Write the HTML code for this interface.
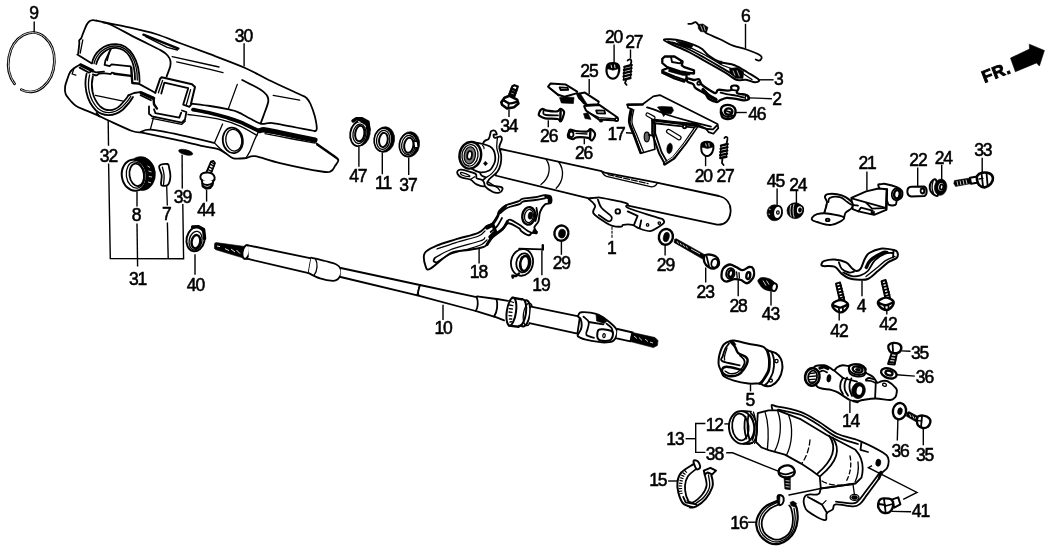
<!DOCTYPE html>
<html><head><meta charset="utf-8">
<style>
html,body{margin:0;padding:0;background:#fff;}
body{width:1052px;height:554px;overflow:hidden;font-family:"Liberation Sans",sans-serif;}
svg{display:block;will-change:transform;}
.l{font-family:"Liberation Sans",sans-serif;font-size:17.5px;fill:#000;stroke:#000;stroke-width:0.55;text-anchor:middle;letter-spacing:-1.1px;}
.k{fill:none;stroke:#000;stroke-width:1.8;stroke-linecap:round;stroke-linejoin:round;}
.t{fill:none;stroke:#000;stroke-width:1.3;stroke-linecap:round;stroke-linejoin:round;}
.h{fill:none;stroke:#000;stroke-width:2.4;stroke-linecap:round;stroke-linejoin:round;}
.hh{fill:none;stroke:#000;stroke-width:3.4;stroke-linecap:round;stroke-linejoin:round;}
.f{fill:#000;stroke:#000;stroke-width:0.6;stroke-linejoin:round;}
.w{fill:#fff;stroke:#000;stroke-width:1.8;stroke-linejoin:round;stroke-linecap:round;}
.wt{fill:#fff;stroke:#000;stroke-width:1.3;stroke-linejoin:round;stroke-linecap:round;}
.wh{fill:#fff;stroke:#000;stroke-width:2;stroke-linejoin:round;stroke-linecap:round;}
.ld{fill:none;stroke:#000;stroke-width:1.4;}
</style></head><body>
<svg width="1052" height="554" viewBox="0 0 1052 554">
<rect width="1052" height="554" fill="#fff"/>
<g id="labels">
<text class="l" x="33.5" y="19">9</text>
<text class="l" x="243.5" y="41.5">30</text>
<text class="l" x="108.5" y="161.5">32</text>
<text class="l" x="136" y="221.3">8</text>
<text class="l" x="166.2" y="220">7</text>
<text class="l" x="182.4" y="202.6">39</text>
<text class="l" x="205.8" y="216">44</text>
<text class="l" x="137.6" y="285">31</text>
<text class="l" x="195.5" y="290.7">40</text>
<text class="l" x="357.8" y="181.8">47</text>
<text class="l" x="383.1" y="189">11</text>
<text class="l" x="407.9" y="191">37</text>
<text class="l" x="508.8" y="131.7">34</text>
<text class="l" x="548.7" y="142.3">26</text>
<text class="l" x="583.6" y="158.8">26</text>
<text class="l" x="589" y="77.2">25</text>
<text class="l" x="613.6" y="43.1">20</text>
<text class="l" x="633.8" y="47.7">27</text>
<text class="l" x="745.4" y="22.2">6</text>
<text class="l" x="778.3" y="85.3">3</text>
<text class="l" x="776.5" y="105">2</text>
<text class="l" x="756.8" y="119.9">46</text>
<text class="l" x="616.1" y="139.9">17</text>
<text class="l" x="703.3" y="181.6">20</text>
<text class="l" x="725.1" y="181.6">27</text>
<text class="l" x="775.4" y="186.9">45</text>
<text class="l" x="797.8" y="190.8">24</text>
<text class="l" x="867.1" y="168.8">21</text>
<text class="l" x="918" y="166.3">22</text>
<text class="l" x="943.3" y="163.6">24</text>
<text class="l" x="982.8" y="156.4">33</text>
<text class="l" x="478.4" y="278.4">18</text>
<text class="l" x="541" y="291.2">19</text>
<text class="l" x="561.3" y="268.7">29</text>
<text class="l" x="611.2" y="253.5">1</text>
<text class="l" x="665.5" y="271">29</text>
<text class="l" x="705.2" y="297.5">23</text>
<text class="l" x="738.1" y="312">28</text>
<text class="l" x="770.5" y="320.4">43</text>
<text class="l" x="861" y="311.8">4</text>
<text class="l" x="838.9" y="337">42</text>
<text class="l" x="888" y="330">42</text>
<text class="l" x="919.6" y="358.6">35</text>
<text class="l" x="924.5" y="383.2">36</text>
<text class="l" x="749.9" y="406.3">5</text>
<text class="l" x="850.6" y="427">14</text>
<text class="l" x="900.1" y="457.2">36</text>
<text class="l" x="924.6" y="460.5">35</text>
<text class="l" x="714.3" y="431">12</text>
<text class="l" x="675" y="445.2">13</text>
<text class="l" x="714.5" y="459.5">38</text>
<text class="l" x="657.8" y="486.2">15</text>
<text class="l" x="738.9" y="529.4">16</text>
<text class="l" x="920.5" y="517.3">41</text>
<text class="l" x="443.1" y="334.4">10</text>
</g>
<g>
<!-- ring 9 -->
<path d="M14.6,83.8 A23,29.7 6 1 1 21.3,89.6" fill="none" stroke="#000" stroke-width="2.7" stroke-linecap="round"/>
<path d="M14.6,83.8 A23,29.7 6 1 1 21.3,89.6" fill="none" stroke="#fff" stroke-width="0.8" stroke-linecap="round"/>
<path class="ld" d="M34.2,21.5 L34.2,32.3"/>
</g>
<g>
<!-- upper cover 30 -->
<path class="k" d="M78.2,53.5 C78.4,51.8 79.1,45.7 79.3,43.5 C79.5,41.3 78.9,41.4 79.2,40.5 C79.5,39.6 80.5,39.5 81.2,38.2 C81.9,37 82.3,35.2 83.2,33 C84.1,30.8 85.5,27 86.5,25 C87.5,23 88.4,22 89.5,21.2 C90.6,20.4 91.8,20.3 93,20.2 C94.2,20.1 95.8,20.6 96.4,20.7"/>
<path class="k" d="M96.4,20.7 C102.1,21.9 120.6,25.5 130.5,27.7 C140.4,29.9 147.4,31.4 155.8,34 C164.2,36.6 172,40.1 181,43.5 C190,46.9 199.4,50.2 210,54.2 C220.6,58.2 234.8,63.4 244.6,67.7 C254.4,72 259.5,75.5 268.7,80 C277.9,84.5 293.7,91.5 300,94.5 C306.3,97.5 304.8,96.4 306.5,98 C308.2,99.6 309.1,100.9 310.5,104 C311.9,107.1 313.8,112.5 314.9,116.6 C315.9,120.7 316.8,126.1 316.8,128.5 C316.8,130.9 315.3,130.8 315,131.2"/>
<path class="t" d="M82.8,39.8 L80.2,53.2"/>
<path class="k" d="M77.3,54.6 L91.5,63.2"/>
<path class="k" d="M103,22.5 C104.2,22.8 104.6,21.9 110.3,24.5 C116,27.1 128.5,34.1 136.9,38.4 C145.3,42.7 155.7,47.5 160.9,50.4 C166.1,53.3 166.4,54.2 168,56 C169.6,57.8 170,59.3 170.4,61 C170.8,62.7 170.9,63.4 170.3,66 C169.7,68.6 167.2,74.8 166.6,76.6"/>
<path class="h" d="M143.4,34.7 L178.4,48.6"/>
<path class="t" d="M145.7,36.7 L167.2,47.4 L177.4,50"/>
<path class="t" d="M172.2,56.7 L210,65 L219,67"/>
<path class="t" d="M176.7,61.8 L210,69.4 L223,72.6"/>
<path class="k" d="M242.2,80 C244.5,81.2 252.5,85.1 256,87 C259.5,88.9 261.4,90 263.3,91.6 C265.2,93.2 266.7,94.8 267.5,96.5 C268.3,98.2 268.7,99.2 268.2,102 C267.7,104.8 265.8,109.4 264.5,113 C263.2,116.6 261.3,121.7 260.7,123.4"/>
<path class="t" d="M237.3,84.4 L228.5,108.4"/>
<path class="t" d="M273.2,95.4 L299.7,100.2"/>
<path class="k" d="M92,63.4 C94,52 104,44 116,44.2 C130,44.6 139.6,60 139.6,82"/>
<path class="t" d="M94,63.6 C96.4,53.6 105,45.8 116,46 C128.4,46.4 137.6,60 137.3,80"/>
<path class="k" d="M96.2,64 C98.6,55 106,47.6 116,47.8 C127,48.2 135.2,60 135,79.6"/>
<path class="k" d="M111,48.6 L105.4,60.6 L104.6,64.8 L109.6,66.2 L111.6,64.3 L130.6,66.4"/>
<path class="t" d="M109.6,51.5 L107.2,60.5"/>
<path class="h" d="M131.2,67.6 L132.3,83 L138.6,83.6"/>
<path class="k" d="M138.6,83.6 L155.3,92.8"/>
<path class="k" d="M155.3,92.8 L160,79 L161.6,77.3 L192,84.2 L195,87 L191,103.5" style="stroke-width:2"/>
<path class="k" d="M161.3,93.6 L164.4,82.6 L188.2,88.2 L183.2,104.6 L189.5,106.8 L191.9,103.6"/>
<path class="t" d="M158.4,92.8 L162.6,80.4"/>
<path class="t" d="M186.4,104.6 L190.6,89.6"/>
<path class="k" d="M191.9,103.6 C194.9,104 204.1,105.1 210,106 C215.9,106.9 222.9,108.2 227.5,109.2 C232.1,110.2 233.7,110.2 237.4,111.8 C241.2,113.3 246.2,116.5 250,118.5 C253.8,120.5 257.5,122.8 260.5,123.6 C263.5,124.4 265.5,123.2 268,123.2 C270.5,123.2 267.9,122.3 275.7,123.6 C283.5,124.9 308.4,129.9 315,131.2"/>
<!-- seam -->
<path class="hh" d="M193,109.6 C195.8,110.2 204.5,111.7 210,113 C215.5,114.3 221,115.8 226,117.3 C231,118.8 234.6,119.7 240,122 C245.4,124.3 255.6,129.5 258.7,131" style="stroke-width:3.8"/>
<path class="hh" d="M260,130.6 C260.8,130.5 261.7,129.4 265,129.8 C268.3,130.2 271.7,131.1 280,132.8 C288.3,134.5 309.2,138.8 315,140" style="stroke-width:5.2"/>
<path class="t" d="M187.9,114.5 C193.4,115.3 212.1,117.6 220.8,119.6 C229.5,121.5 234,123.5 240,126.2 C246,128.8 254.2,133.9 257,135.5"/>
<path class="t" d="M265,133.6 C269.2,134.4 281.7,136.9 290,138.5 C298.3,140.1 310.8,142.2 315,143"/>
<path class="k" d="M262,131 C266.7,131.9 281,134.4 290,136.2 C299,138 311.7,140.7 316,141.6"/>
<!-- lower cover 32 -->
<path class="k" d="M80.3,64.5 C79.2,65.1 75.7,67 74,68.3 C72.3,69.6 71.3,70.4 70.2,72.1 C69.1,73.8 68.4,76 67.6,78.4 C66.8,80.8 65.4,84 65.1,86.6 C64.8,89.2 64.7,91.7 65.7,94.2 C66.8,96.7 69.6,99.7 71.4,101.7 C73.2,103.7 74,104.7 76.5,106.2 C79,107.7 83.2,109.1 86.6,110.6 C90,112 93.1,113.3 96.7,114.9 C100.3,116.5 102.1,117.6 108,120.3 C113.9,123 126.5,129 132,131 C137.5,133 139.4,132.2 140.9,132.4"/>
<path class="k" d="M140.9,132.4 C146.6,133.6 164.9,137.4 175.3,139.7 C185.7,142 195.9,144.5 203.1,146.1 C210.2,147.7 214.4,147.9 218.2,149.2 C222,150.4 223.5,152.1 226,153.6 C228.5,155.1 230.1,157.6 233.4,158.3 C236.7,159.1 242.4,158.4 246,158.1 C249.6,157.8 249.2,155.4 254.9,156.2 C260.6,157 268.9,160.5 280,163.1 C291.1,165.7 313.2,170.2 321.7,171.5 C330.2,172.8 328.8,172.1 331,171.2 C333.2,170.3 333.8,167.9 335,166 C336.2,164.1 339,161.8 338.2,159.6 C337.4,157.4 333.6,155.7 330,153 C326.4,150.3 318.8,145.1 316.6,143.5"/>
<path class="t" d="M74,68.3 L72.1,74 L75.8,75.2"/>
<path class="hh" d="M80.8,65 L92.6,70.8"/>
<path class="k" d="M79.6,67.6 L89.1,72.7 L91.6,71"/>
<path class="k" d="M86.6,73.6 C84,84 85.5,100 96,110.5 C103,116.6 114,117 123,109.5 C128,104.5 131,100.5 133,97"/>
<path class="t" d="M89.6,75 C87,85 88.5,99 98,108.6 C104.5,114 113.6,114.4 121.4,107.6 C126,103 129,99.5 130.8,96.2"/>
<path class="k" d="M92.9,76.2 C90.4,86 92,98 100.2,106.5 C106,111.4 113.5,111.8 120,105.6 C124,101.5 126.6,98.6 128.4,95.4"/>
<path class="t" d="M95.4,95.4 L123.2,101.1"/>
<path class="k" d="M96.6,113 L99.5,116.4"/>
<path class="k" d="M92.9,74.3 C93.5,74.5 95.5,75.5 96.5,75.4 C97.5,75.3 97.8,73.9 99.2,73.6 C100.6,73.3 103.1,73.3 105,73.4 C106.9,73.5 109.2,74.1 110.4,74 C111.6,73.9 111.3,72.7 112,72.6 C112.7,72.5 114,73.4 114.4,73.6"/>
<path class="h" d="M114.4,73.8 L131,75.9"/>
<path class="k" d="M92,71 L96,72.4 L104,71.6"/>
<path class="k" d="M128.4,95.4 L134,93 L140,92.2"/>
<path class="hh" d="M141,92.8 L153.6,98.4"/>
<path class="k" d="M140.6,95.2 L151,100.2"/>
<path class="h" d="M153.6,98.4 L154,104.2 L157,108.6"/>
<path class="k" d="M149,106.5 L149,113.7 L152.1,116.4 L181.8,122.6 L185,119.4 L186.4,112 L182,110.5"/>
<path class="k" d="M154,109.3 L155.4,113.1 L179.3,117.6 L181.2,112.6"/>
<path class="t" d="M152,118.3 L181.6,124.4 L185.4,121"/>
<path class="t" d="M153.5,117.7 L150.3,129.7"/>
<path class="k" d="M140.9,131.8 C142.6,131.5 144.2,129.1 151,129.7 C157.8,130.3 171,133.1 181.6,135.3 C192.2,137.5 208.9,141.6 214.4,142.9"/>
<path class="t" d="M222.6,124 L214.4,142.9 L220,148.5 L226,153.6"/>
<path class="t" d="M258,132.6 L254.9,139.1 L249.8,151.7 L246,158.1"/>
<path class="t" d="M316.6,144.8 L338.2,159.6"/>
<ellipse class="k" cx="232.8" cy="140.4" rx="10" ry="12.8" transform="rotate(-8 232.8 140.4)"/>
<ellipse class="t" cx="233.8" cy="140.2" rx="8" ry="10.9" transform="rotate(-8 233.8 140.2)"/>
<path class="ld" d="M244.1,43.2 L244.1,66.4"/>
</g>
<g>
<!-- leaders left -->
<path class="ld" d="M108.2,120.3 L108.5,145.8"/>
<path class="ld" d="M108.6,163.5 L110.3,258.5 L183.6,258.8 L182.8,204"/>
<path class="ld" d="M182.1,154.7 L182.3,188.5"/>
<path class="ld" d="M137,191.6 L137,206.5"/>
<path class="ld" d="M137,223.6 L137.6,266.5"/>
<path class="t" d="M166.7,186.3 L167.3,205"/>
<path class="ld" d="M167.4,222.4 L168.2,258.6"/>
<path class="ld" d="M206.6,189.9 L206.6,201.6"/>
<path class="ld" d="M195,254.3 L195,274.8"/>
<!-- part 8 bushing -->
<ellipse class="f" cx="141.2" cy="173.6" rx="14.2" ry="17" transform="rotate(-6 141.2 173.6)"/>
<ellipse class="wh" cx="134.2" cy="175.2" rx="12.4" ry="15.6" transform="rotate(-8 134.2 175.2)"/>
<ellipse class="t" cx="135.6" cy="175" rx="9.3" ry="13.2" transform="rotate(-8 135.6 175)"/>
<ellipse class="k" cx="136.7" cy="174.8" rx="7.2" ry="11.3" transform="rotate(-8 136.7 174.8)"/>
<path d="M147.5,166 L150,167.5 M148.5,171 L151.5,172 M148.8,176.5 L152,177 M148,182 L151,182.8" stroke="#fff" stroke-width="0.8" fill="none"/>
<!-- part 7 -->
<path class="w" d="M159.3,165.8 C160.3,163.9 165.8,163.6 167.5,164 C169.2,164.4 168.7,166.1 169.2,168.2 C169.7,170.3 170.6,173.7 170.4,176.4 C170.2,179.1 169.5,183.1 168.1,184.6 C166.7,186.1 163.4,185.9 162.2,185.7 C161,185.5 161.1,185.2 161,183.4 C160.9,181.7 162,178.1 161.7,175.2 C161.4,172.3 158.3,167.7 159.3,165.8Z"/>
<path class="t" d="M162.4,167.2 C162.7,168.5 163.9,172.2 164.1,175.2 C164.3,178.2 163.6,183.4 163.5,185"/>
<!-- part 39 -->
<ellipse class="f" cx="185.7" cy="152.3" rx="7.3" ry="2.5" transform="rotate(14 185.7 152.3)"/>
<!-- part 44 -->
<path class="w" d="M206.4,172.4 L211,161.6 L213.2,160.8 L215,163 L210.6,174.4Z"/>
<path class="t" d="M207.8,169.5 L211.8,171.4 M208.9,166.8 L213,168.8 M210,164.2 L214,166.1 M211,162.2 L214.6,164"/>
<path class="wh" d="M200.4,176.4 C200.6,175.2 201.7,173.8 203,173.2 C204.3,172.6 206.4,172.5 208,172.6 C209.6,172.7 211.5,173.2 212.6,174 C213.7,174.8 214.4,176.3 214.6,177.4 C214.8,178.5 214.7,179.8 213.6,180.6 C212.5,181.4 209.9,182.2 208,182.2 C206.1,182.2 203.3,181.4 202,180.4 C200.7,179.4 200.2,177.6 200.4,176.4Z"/>
<path class="wh" d="M202,180.6 L202.6,186.4 L206,188.8 L210.4,188 L212.6,185 L213.2,180.8"/>
<path class="k" d="M202.4,183.4 C205,185.6 209.6,185.6 212.8,183 M203,186 C205.6,188 209.4,187.6 211.8,185.8"/>
</g>
<g>
<!-- part 40 -->
<ellipse class="wh" cx="195.6" cy="239.2" rx="9" ry="12.2" transform="rotate(12 195.6 239.2)"/>
<path class="hh" d="M192.6,227 L198,226.6 L203.6,229.6 L204.6,238.5"/>
<ellipse class="t" cx="195.6" cy="240.6" rx="6.4" ry="9.4" transform="rotate(12 195.6 240.6)"/>
<ellipse class="h" cx="195.9" cy="241.7" rx="4.3" ry="6.7" transform="rotate(10 195.9 241.7)"/>
<!-- shaft 10 -->
<path class="f" d="M214.6,243.4 L216,242.6 L244.4,246.4 L242.6,257.8 L216,249.8 L214.4,248.4Z"/>
<path d="M217,246 L220,246.6 M225,248.6 L229,250.6 M231,249 L235,252 M236.5,250 L240,253.6" stroke="#fff" stroke-width="0.9" fill="none"/>
<ellipse class="wh" cx="246" cy="252" rx="3.4" ry="7" transform="rotate(12 246 252)"/>
<path class="w" d="M248,245.3 L311.2,258.4 L308.6,273.1 L249,259.2"/>
<path class="k" d="M246.6,258.8 L249,259.2"/>
<path class="w" d="M311.2,257.6 C313.5,258.2 320.9,259.9 325,261 C329.1,262.1 333.4,262.9 336,264.2 C338.6,265.4 339.7,266.9 340.5,268.5 C341.3,270.1 341.4,272.2 341,274 C340.6,275.8 339.3,277.9 338,279 C336.7,280.1 336,280.9 333,280.8 C330,280.7 324.1,279.7 320,278.4 C315.9,277.1 310.5,274 308.6,273.1"/>
<path class="t" d="M315.4,258.8 C318,263 317.6,271 314,275.4"/>
<path class="w" d="M340.8,268 L419.8,285 L417.3,295.4 L340.6,277"/>
<path class="t" d="M420.4,285 C418,288 417.6,292.6 419,295.6"/>
<path class="k" d="M419.8,285 L476.6,297.1"/>
<path class="k" d="M417.3,295.4 L475.7,311"/>
<path class="k" d="M476.6,297.1 C478.4,301 478.2,307.6 475.7,311"/>
<path class="k" d="M477,296.4 L496.5,299"/>
<path class="k" d="M477,311.3 L494,316.6"/>
<path class="k" d="M496.5,299 C498,304 497.4,312 494,316.6"/>
<path class="k" d="M497.2,299 L508,300.8"/>
<path class="k" d="M494.6,316.6 L504.1,320.4"/>
<ellipse class="wh" cx="524.6" cy="313.4" rx="5.4" ry="13.2" transform="rotate(8 524.6 313.4)"/>
<ellipse class="wh" cx="520.6" cy="312.6" rx="5.4" ry="13.6" transform="rotate(8 520.6 312.6)"/>
<path class="w" d="M512.4,297.6 L521.6,299.2 L518.2,326.6 L509.4,325.4Z" style="stroke:none"/>
<path class="h" d="M512.4,297.8 L522,299.4"/>
<path class="h" d="M509,325.6 L518.6,326.8"/>
<ellipse class="wh" cx="511.4" cy="311.6" rx="4.6" ry="14" transform="rotate(8 511.4 311.6)"/>
<path class="t" d="M510.6,301.5 L513.6,302.5 M509.6,305 L512.8,305.6 M509.2,308.6 L512.4,309 M509,312 L512,312.4 M509,315.6 L511.8,315.8 M509.4,319 L511.8,319 M510,322 L512,321.6"/>
<ellipse class="t" cx="528" cy="314.4" rx="4.6" ry="11.4" transform="rotate(8 528 314.4)"/>
<path class="w" d="M531,306.7 L579.9,316.6 L577.4,333.7 L529.4,323.2"/>
<!-- yoke -->
<path class="w" d="M578.2,316.7 C578,315.9 578.5,314.5 579,313.8 C579.5,313.1 579.7,312.5 581.5,312.3 C583.3,312.1 587.1,312.2 590,312.6 C592.9,313 595.5,313.3 598.7,314.9 C601.9,316.5 606.4,319.6 609.3,322 C612.2,324.4 615,327 616.3,329 C617.6,331 617.5,332.1 617,334 C616.5,335.9 615.2,339.3 613.4,340.7 C611.6,342.1 608.5,342.2 606,342.4 C603.5,342.6 602.1,342.4 598.7,341.9 C595.3,341.4 588.9,340.3 585.8,339.6 C582.7,338.9 581.4,338.3 580,337.6 C578.6,336.9 577.5,336.8 577.6,335.5 C577.7,334.2 579.9,331.7 580.6,330 C581.3,328.3 581.7,327.4 581.7,325.5 C581.7,323.6 581.1,320.1 580.5,318.6 C579.9,317.1 578.5,317.5 578.2,316.7Z" style="stroke-width:1.9"/>
<path class="f" d="M596,314.6 L603,316.6 L606.6,321.6 L604,323.4 L596.6,321Z"/>
<path class="k" d="M583.5,316.7 C584.4,317.6 588,319.9 588.7,322 C589.4,324.1 588,326.9 587.6,329 C587.2,331.1 585.3,333.4 586.4,334.9 C587.5,336.4 592.7,337.3 594,337.8"/>
<path class="k" d="M588.7,322 L603.4,324.3"/>
<path class="wh" d="M597.4,333 C597.6,331.6 597.7,330.4 598.6,329.8 C599.5,329.2 600.9,329 603,329.2 C605.1,329.4 609.8,330.2 611.5,331 C613.2,331.8 613,332.7 613,334 C613,335.3 612.3,337.5 611.6,338.6 C610.9,339.7 610.8,340.3 609,340.6 C607.2,340.9 602.5,340.8 600.6,340.4 C598.7,340 598.1,339.2 597.6,338 C597.1,336.8 597.2,334.4 597.4,333Z"/>
<path class="k" d="M606.5,323.6 C607.4,324.3 610.6,326.4 611.6,328 C612.6,329.6 612.6,332.2 612.8,333"/>
<ellipse class="t" cx="604" cy="335.6" rx="1.2" ry="2" transform="rotate(10 604 335.6)"/>
<path class="w" d="M617.5,329 L632.7,332.5 L630.4,341.3 L616.6,338.4"/>
<path class="f" d="M631.6,332.3 L655,337.5 L658,340.6 L657.4,345.5 L653.4,347.6 L630.2,341.5Z"/>
<path d="M634,336 L637,338.6 M639,337.6 L642,340.4 M645,339 L648,341.6 M650,342 L653,343" stroke="#fff" stroke-width="0.8" fill="none"/>
<path class="ld" d="M443,304.8 L443,320"/>
</g>
<g>
<!-- 47 -->
<ellipse class="f" cx="360.6" cy="132.6" rx="9.6" ry="13.4" transform="rotate(8 360.6 132.6)"/>
<ellipse class="wh" cx="358.8" cy="133.8" rx="8.6" ry="12.4" transform="rotate(8 358.8 133.8)" style="stroke-width:1.8"/>
<ellipse class="t" cx="359.4" cy="133.8" rx="6.4" ry="9.8" transform="rotate(8 359.4 133.8)"/>
<ellipse class="h" cx="359.8" cy="133.6" rx="4.6" ry="7.8" transform="rotate(8 359.8 133.6)" style="stroke-width:2"/>
<path class="hh" d="M353,121 L356.4,118.6 L362,118.8 L368,122 L369,130"/>
<path d="M358,121.4 L360.5,122.2 M364.5,124.6 L365.6,127" stroke="#fff" stroke-width="0.9" fill="none"/>
<path class="ld" d="M358.9,146.6 L358.9,166.8"/>
<!-- 11 -->
<ellipse class="f" cx="384.4" cy="139.5" rx="10.2" ry="12.8" transform="rotate(8 384.4 139.5)"/>
<ellipse class="wh" cx="383" cy="139.8" rx="8.8" ry="11.8" transform="rotate(8 383 139.8)" style="stroke-width:1.7"/>
<ellipse class="t" cx="383.2" cy="139.9" rx="6.6" ry="9.6" transform="rotate(8 383.2 139.9)"/>
<ellipse class="h" cx="383.4" cy="140" rx="4.3" ry="7.2" transform="rotate(8 383.4 140)" style="stroke-width:2"/>
<path class="ld" d="M382.3,152.6 L382.3,174.2"/>
<!-- 37 -->
<ellipse class="f" cx="409.4" cy="144.4" rx="10.2" ry="12.8" transform="rotate(8 409.4 144.4)"/>
<ellipse class="wh" cx="408.2" cy="144.8" rx="8.8" ry="11.6" transform="rotate(8 408.2 144.8)" style="stroke-width:1.7"/>
<ellipse class="t" cx="408.5" cy="145" rx="6.8" ry="9.6" transform="rotate(8 408.5 145)"/>
<ellipse class="h" cx="408.8" cy="145.3" rx="4.6" ry="7.6" transform="rotate(8 408.8 145.3)" style="stroke-width:2"/>
<path class="wh" d="M413.6,140.8 L417.6,141.8 L418.2,147.4 L414.4,148 Z" style="stroke-width:1.5"/>
<path class="ld" d="M408.7,157.4 L408.7,175"/>
</g>
<g>
<!-- column tube -->
<path class="w" d="M500.6,149 L601.5,171.2 L604.6,172.6 L655.7,182.4 L718.9,196 C727,198 731,204 730.6,211.4 C730,220 725,225.4 717,224.6 L628,205.6 L596,197.6 L588.9,198.4 L495.5,175.5 Z"/>
<path class="t" d="M601.5,171.2 C603,174 604.6,175.8 606.5,176.4 L651.5,186.8 C654,187 656.4,185.4 657.5,182.6"/>
<path class="t" d="M608,174.6 L648,183.6" stroke-dasharray="6 2"/>
<path class="t" d="M546.1,159.4 C551,166 550.6,177 541,184.6"/>
<path class="t" d="M558.7,162 C564.6,170 563.6,181 556.2,188.2"/>
<!-- left housing -->
<path class="w" d="M482.9,144 C484.3,138.5 487.4,140.6 488.6,138.9 C489.9,137.2 490,134.9 490.4,133.6 C490.8,132.3 490.4,131.8 491.1,131.3 C491.9,130.8 493.9,130.2 494.9,130.7 C495.8,131.2 497,133.9 496.8,134.5 C496.6,135.1 494,134 493.6,134.5 C493.2,135 493.7,137.1 494.3,137.6 C494.9,138.1 495.9,137.6 497,137.4 C498.1,137.2 499.8,136.1 500.6,136.4 C501.4,136.8 502.1,137.7 501.9,139.5 C501.7,141.3 499.4,144.5 499.3,147.1 C499.2,149.7 501,152.5 501.2,155.3 C501.4,158.2 501.2,161.5 500.6,164.2 C500,166.9 499.3,169.2 497.4,171.7 C495.5,174.2 490.8,177.2 489.2,179.3 C487.6,181.4 486.1,183.1 488,184.4 C489.9,185.7 498.2,186.1 500.6,186.9 C503,187.7 502.7,188.5 502.5,189.4 C502.3,190.3 500.9,192.2 499.3,192.6 C497.7,193 495.5,193.2 493,192 C490.5,190.8 485.9,187.5 484.2,185.6 C482.5,183.7 482.7,182 482.9,180.6 C483.1,179.2 485.9,178.8 485.4,177.4 C484.9,176 480.4,177.6 480,172 C479.6,166.4 481.5,149.5 482.9,144Z"/>
<path class="t" d="M497.4,137.4 C497.3,139.1 496.6,144.5 496.8,147.7 C497,150.9 498.7,153.4 498.7,156.6 C498.7,159.8 498,163.9 496.8,166.7 C495.6,169.5 493.5,171.8 491.7,173.6 C489.9,175.4 486.8,176.9 485.8,177.6"/>
<path class="t" d="M488,181.9 L498.1,188.2 L499.6,190.4"/>
<path class="w" d="M470.3,142 C472.4,142.3 479.6,143.2 482.9,144 C486.2,144.8 488.2,145.5 490,146.6 C491.8,147.7 492.7,148.7 493.6,150.3 C494.5,151.9 495,154.1 495.2,156 C495.4,157.9 495.3,159.8 494.9,161.6 C494.5,163.4 493.6,165.1 492.6,166.6 C491.7,168.1 491.2,169.5 489.2,170.5 C487.2,171.5 483.3,172.7 480.4,172.4 C477.5,172.2 473.4,169.6 472,169"/>
<path class="f" d="M485.4,161.2 L487.6,163.5 L485.4,165.8 L483.4,163.5Z"/>
<path class="t" d="M482.6,145.4 C483.6,146.4 484.6,147.4 484,148.6"/>
<path class="w" d="M457.6,171.1 C458.2,170.4 458.4,169.3 461.4,169.7 C464.3,170.1 472.8,172.2 475.3,173.6 C477.8,175 475.3,176.9 476.6,178.1 C477.9,179.3 481.6,179.2 482.9,180.6 C484.2,181.9 485.2,185.6 484.2,186.2 C483.1,186.8 478.9,185.5 476.6,184.4 C474.3,183.3 472.8,180.7 470.3,179.5 C467.8,178.3 463.5,178.3 461.4,177.4 C459.3,176.5 458.2,175.1 457.6,174 C457,172.9 457,171.8 457.6,171.1Z"/>
<path class="t" d="M461,172.4 C462.1,172.4 467.2,174.3 468.6,175 C470,175.7 470.3,176.6 469.2,176.6 C468.1,176.6 463.4,175.7 462,175 C460.6,174.3 459.9,172.4 461,172.4Z"/>
<path class="t" d="M474.7,176.8 L470.3,179.5"/>
<ellipse class="wh" cx="470.3" cy="155.3" rx="10.8" ry="13.4" transform="rotate(8 470.3 155.3)" style="stroke-width:2.4"/>
<ellipse class="t" cx="470" cy="155.3" rx="8" ry="10.8" transform="rotate(8 470 155.3)"/>
<ellipse cx="469.8" cy="155.3" rx="5.6" ry="8.6" transform="rotate(8 469.8 155.3)" fill="#777" stroke="#000" stroke-width="1.2"/>
<ellipse class="w" cx="469.6" cy="155.3" rx="2.3" ry="4.2" transform="rotate(8 469.6 155.3)"/>
<!-- part 1 bracket -->
<path class="w" d="M588.9,198.7 C589.8,198.2 594,198 596.1,197.8 C598.2,197.7 596.4,196.9 601.5,197.8 C606.6,198.7 622.4,201.6 626.8,203.3 C631.2,205 622.6,205.4 627.7,207.8 C632.8,210.2 651.6,215.8 657.5,217.7 C663.4,219.6 661.9,218.6 662.9,219.5 C663.9,220.4 664.7,221.8 663.8,223.1 C662.9,224.4 659.8,226.2 657.5,227.6 C655.2,228.9 653.3,231 650.3,231.2 C647.3,231.3 642.4,229.6 639.4,228.5 C636.4,227.4 634.9,225.5 632.2,224.9 C629.5,224.3 625,224.6 623.2,224.9 C621.4,225.2 623.2,226.5 621.4,226.7 C619.6,226.8 615.1,226.6 612.4,225.8 C609.7,225.1 608.3,224.3 605.1,222.2 C601.9,220.1 595,215.9 593.4,213.2 C591.8,210.5 595.7,208.1 595.2,206 C594.8,203.9 591.8,201.8 590.7,200.6 C589.7,199.4 588,199.2 588.9,198.7Z" style="stroke-width:1.8"/>
<path class="k" d="M597.9,199.6 C598.5,201 599.2,204.9 601.5,207.8 C603.8,210.7 610.3,214.6 611.5,216.8 C612.7,219.1 610.8,221.6 608.7,221.3 C606.6,221 600.4,216.1 598.8,215"/>
<ellipse class="k" cx="617.8" cy="211.4" rx="2.3" ry="2.3"/>
<path class="k" d="M627.7,211.4 L637.6,215.9 L634,224.9"/>
<path class="k" d="M641.2,220.4 L639.6,228"/>
<ellipse class="t" cx="647.6" cy="224.9" rx="1.2" ry="1.2"/>
<ellipse class="t" cx="659.3" cy="223.1" rx="1.2" ry="1.2"/>
<path d="M612,226.7 L612,238.6" fill="none" stroke="#000" stroke-width="1.1" stroke-dasharray="3 1"/>
</g>
<g>
<!-- lever 18 -->
<path class="w" d="M424.7,253.2 C426.4,249.8 431,248.2 436.1,245.9 C441.2,243.6 448.6,241.6 455.6,239.4 C462.6,237.2 473.2,235.1 478.3,232.9 C483.4,230.7 484.1,228 486.5,226.4 C488.9,224.8 491.1,224.9 493,223.2 C494.9,221.4 496.7,217.9 497.8,215.9 C498.9,213.9 498.1,212.8 499.5,211 C500.9,209.2 502.8,206.9 506,205.3 C509.2,203.7 516.2,202.3 518.9,201.2 C521.6,200.1 519.5,199.5 522.2,198.8 C524.9,198.1 531.4,197.8 535.2,197.2 C539,196.6 542.3,195.2 544.9,195.1 C547.5,195 549.6,195.1 550.6,196.4 C551.6,197.7 551.9,201.6 550.9,202.9 C549.9,204.2 546.7,203 544.9,204.5 C543.1,206 541.2,209 540.1,211.8 C539,214.6 539.4,218.9 538.4,221.5 C537.4,224.1 534.7,225.3 534.4,227.2 C534.1,229.1 537.2,231.9 536.8,232.9 C536.4,233.9 533.2,232.5 531.9,232.9 C530.5,233.3 530.5,235.6 528.7,235.3 C527,235 523,232.5 521.4,231.3 C519.8,230.1 521.1,229.4 518.9,228.1 C516.7,226.8 511.1,223.1 508.4,223.2 C505.7,223.3 505.4,226.6 502.7,228.9 C500,231.2 494.8,234.3 492.1,237 C489.4,239.7 488.2,243.3 486.5,245.1 C484.8,246.8 484.6,246.7 481.6,247.5 C478.6,248.3 473.8,249.1 468.6,250 C463.5,250.9 457.1,250.1 450.7,253.2 C444.3,256.3 434.6,266.4 430.4,268.6 C426.2,270.8 426.6,268.8 425.6,266.2 C424.7,263.6 422.9,256.6 424.7,253.2Z" style="stroke-width:1.9"/>
<path class="k" d="M507.6,220.7 C508.1,220.6 508.6,219.1 510.8,219.9 C513,220.7 517.9,223.8 520.6,225.6 C523.3,227.4 525.2,229.3 527.1,230.5 C529,231.7 531.1,232.5 531.9,232.9"/>
<path class="k" d="M500.5,213 C501.6,212.2 503.8,209.5 507,208 C510.2,206.5 516.8,205.3 519.5,204.2 C522.2,203.1 520.3,202.3 523,201.6 C525.7,200.9 531.8,200.5 535.5,200 C539.2,199.5 543.4,198.7 545,198.4"/>
<path class="hh" d="M546,196.6 L549.6,198 L549.4,202"/>
<path class="hh" d="M487,228 L493,225 L495.5,231.5 L490,237"/>
<path class="t" d="M434.5,258.1 C437.1,256.8 442.3,252.8 449.9,250 C457.5,247.2 474.2,243 480,241 C485.8,239 484,238.3 484.8,237.8"/>
<path class="t" d="M436,262.5 C438.5,261.1 445.3,256.3 451,254 C456.7,251.7 464.9,250.2 470,248.6 C475.1,247 478.8,245.9 481.6,244.5 C484.4,243.1 486.1,240.8 487,240"/>
<path class="k" d="M434.6,258.4 C434.4,258.8 433.4,260.3 433.6,261 C433.8,261.7 435.6,262.2 436,262.5"/>
<path class="t" d="M437,249 C440.2,247.9 449.1,244.8 456,242.6 C462.9,240.4 473.8,237.9 478.6,236 C483.4,234.1 483.9,231.8 485,231"/>
<ellipse class="h" cx="528.7" cy="215.9" rx="6.4" ry="8.8" transform="rotate(10 528.7 215.9)"/>
<ellipse class="t" cx="529" cy="216" rx="4.4" ry="6.6" transform="rotate(10 529 216)"/>
<ellipse class="f" cx="530.4" cy="215.6" rx="2.2" ry="3.6" transform="rotate(10 530.4 215.6)"/>
<path class="f" d="M533.5,229.5 L537.5,231.5 L536.6,234 L532.6,232Z"/>
<path class="k" d="M536.5,208 C536.6,209 537.4,211.8 537.2,214 C537,216.2 535.7,219.8 535.4,221"/>
<path class="ld" d="M479.1,248.9 L479.1,263.4"/>
<!-- spring 19 -->
<ellipse class="k" cx="522" cy="262.4" rx="11" ry="13.4" transform="rotate(10 522 262.4)"/>
<ellipse class="k" cx="523.4" cy="262.9" rx="7" ry="9.6" transform="rotate(10 523.4 262.9)"/>
<ellipse class="h" cx="524.6" cy="263.4" rx="4.4" ry="7.5" transform="rotate(10 524.6 263.4)"/>
<path class="t" d="M521.5,257 C520,261 520.4,266 522,269.5"/>
<path class="k" d="M519.2,248.6 L541.9,249.4"/>
<path class="h" d="M542.8,245.2 L542.8,249.6"/>
<path class="h" d="M519,273.4 C518.5,273.8 517.1,275.6 516,276 C514.9,276.4 512.9,275.3 512.4,275.6 C511.9,275.9 512.7,277.3 512.8,277.6"/>
<path class="ld" d="M541.9,250.4 L541.9,275.3"/>
<!-- washer 29 left -->
<ellipse class="wh" cx="561.4" cy="233.1" rx="7" ry="7.6" transform="rotate(10 561.4 233.1)" style="stroke-width:2.4"/>
<ellipse class="f" cx="562" cy="233.6" rx="3.4" ry="4.4" transform="rotate(10 562 233.6)"/>
<path class="ld" d="M561.4,241.8 L561.4,254.8"/>
<path class="hh" d="M487,226.6 C488,226.1 491.2,225.1 493,223.4 C494.8,221.7 496.5,218.4 497.6,216.4 C498.7,214.4 498.3,213.1 499.6,211.4 C500.9,209.7 504.6,206.9 505.6,206" style="stroke-width:2.8"/>
<path class="hh" d="M487,244.6 C487.9,243.3 489.8,239.6 492.4,237 C495,234.4 500.1,231.6 502.6,229 C505.1,226.4 506.6,222.7 507.4,221.4" style="stroke-width:2.8"/>
<path class="k" d="M490.6,232 C491.7,231.1 495.1,228.7 497,226.4 C498.9,224.1 501.2,219.4 502,218"/>
</g>
<g>
<!-- bolt 34 -->
<path class="wh" d="M512.4,86.2 L514.4,85.2 L517.8,86.6 L513.4,98.6 L508.6,96.8Z" style="stroke-width:2.2"/>
<path class="h" d="M511.6,88.6 L516.4,90.6 M510.6,91.2 L515.4,93.2 M509.6,93.8 L514.4,95.8"/>
<path class="wh" d="M501.3,102.2 L504.5,97.7 L509.5,95.8 L517.1,99.6 L518.4,103.4 L514,107.2 L507,108.5 L502,104.7Z" style="stroke-width:2.6"/>
<path class="h" d="M503.6,100.4 C504.6,100.9 507.3,103.2 509.6,103.4 C511.9,103.6 516.1,101.9 517.4,101.6"/>
<path class="k" d="M508.6,104 L508.4,108"/>
<path class="ld" d="M509,109.6 L509,116.9"/>
<!-- plate 25 -->
<path class="wh" d="M548.1,86.7 L550.6,83.4 L565.8,84.6 L577.2,91.6 L576.4,93.4 L564.5,96.8 L558.2,94.7Z"/>
<path class="t" d="M548.6,87.6 L558.6,95.8"/>
<path class="w" d="M559.6,87.4 L567.6,87.8 L568.2,89.8 L560.6,90Z"/>
<path class="f" d="M559.5,97.6 L566,97 L574,97.4 L573.4,103.6 L561.4,103Z"/>
<path class="wh" d="M577.2,94.1 L584.8,92.6 L598.7,101.7 L598,104.2 L586,104.9 L579,98Z"/>
<path class="f" d="M577,93.6 L580,93 L587,104 L583,103.6Z"/>
<path class="wh" d="M584.1,106.1 L599.3,104.9 L617.6,117.5 L617,120.6 L598.7,119.4 L586,110.5Z"/>
<path class="t" d="M586.6,111.6 L599,117.6 L616.6,118.8"/>
<path class="w" d="M596.1,110.5 L604.4,110.7 L605.2,113.5 L597.2,113.4Z"/>
<path class="f" d="M583.5,113.6 L588,113 L591,119.4 L585,118.6Z"/>
<ellipse class="f" cx="601" cy="120.6" rx="2" ry="1.6"/>
<ellipse class="w" cx="616.6" cy="119.4" rx="1.6" ry="1.6"/>
<path class="ld" d="M589.2,79 L589.2,94.1"/>
<!-- clip 26 a -->
<path class="wh" d="M538.8,113.9 C539,112.9 540,110.8 540.6,110 C541.2,109.2 541.5,108.7 542.6,108.8 C543.7,108.9 544.7,110.3 547.1,110.7 C549.5,111.1 555,111.7 557.2,111.4 C559.4,111.1 559.1,108.7 560.3,108.8 C561.4,108.9 563.8,110.3 564.1,112 C564.4,113.7 562.8,117.4 562.2,119 C561.6,120.6 561,121.5 560.3,121.5 C559.6,121.5 560.3,119.5 557.8,119 C555.3,118.5 548.2,118.8 545.2,118.3 C542.2,117.8 540.6,116.5 539.5,115.8 C538.4,115.1 538.6,114.9 538.8,113.9Z" style="stroke-width:2.2"/>
<path class="k" d="M543.6,110.6 C543.6,111.1 543,112.9 543.4,113.6 C543.8,114.3 543.6,114.7 546,115 C548.4,115.3 556,115.3 558,115.4"/>
<path class="h" d="M560.6,111 L560.3,119.6"/>
<path class="ld" d="M548.3,120.2 L548.3,127.2"/>
<!-- clip 26 b -->
<path class="wh" d="M567.9,135.4 C568,134.4 568.6,132.6 569,131.6 C569.4,130.6 569.3,129.8 570.4,129.7 C571.5,129.6 572.8,130.7 575.5,131 C578.2,131.3 584.4,131.9 586.9,131.6 C589.4,131.3 589.2,128.7 590.6,129.1 C592,129.5 594.9,132.2 595.1,134.1 C595.3,136 593.1,139.8 591.9,140.4 C590.7,141 590.6,138.4 588.1,137.9 C585.6,137.4 579.2,137.1 576.7,137.3 C574.2,137.5 574.4,139.1 573,139.2 C571.6,139.2 569.5,138.2 568.6,137.6 C567.8,137 567.8,136.4 567.9,135.4Z" style="stroke-width:2.2"/>
<ellipse class="k" cx="571.3" cy="134.3" rx="2.2" ry="2.8"/>
<path class="t" d="M576,133.4 L587,134"/>
<path class="h" d="M590.4,130.6 L590,138.6"/>
<path class="ld" d="M584.3,138.5 L584.3,144.2"/>
<!-- bracket 17 -->
<path class="w" d="M627.3,104.5 L642.7,104.2 L653.3,96.4 L659.8,95.1 L717.5,124 L718.3,128.1 L713.4,133.7 L708.5,132.1 L706.1,128.9 L698,126.4 L654,120 L654.1,138.6 L654.9,149.2 L641.1,153.2 L634.6,135.4 L629.7,122.4 L632.2,109.4 L628.1,107.7Z" style="stroke-width:1.7"/>
<path class="h" d="M627.6,104.8 L642.5,104.6"/>
<path class="t" d="M633.8,109.6 C633.5,111.7 631.5,118.1 632,122.4 C632.5,126.7 635.1,130.5 637,135.4 C638.9,140.3 642.3,148.9 643.4,151.6"/>
<path class="h" d="M630.8,109.6 C630.5,111.7 628.7,118.1 629.2,122.4 C629.7,126.7 632.1,130.3 634,135.4 C635.9,140.5 639.5,150.1 640.6,153"/>
<path class="k" d="M647,107.4 C648.7,107.9 653.5,109.3 657,110.6 C660.5,111.9 662.5,113.2 668,115 C673.5,116.8 682.8,119.5 690,121.4 C697.2,123.3 707.5,125.7 711,126.6"/>
<path class="k" d="M698,125 L707,129 L713,129.4 L717.4,125"/>
<path class="f" d="M657.4,107 L662,106.4 L672,107 L673.6,110.4 L671,114 L666,113.6 L663.6,116.6 L661.4,112Z"/>
<path class="h" d="M652.5,119.9 L673.6,122.4 L698,124.8" style="stroke-width:3"/>
<path class="k" d="M653,123 L673,125.4 L695,127.6"/>
<path class="h" d="M697,126 L685,143.5 L673.6,158.1 L664.7,163.8" style="stroke-width:3.6"/>
<path d="M696,127.4 L684,144.2 L673,157.6 L665,162.6" stroke="#fff" stroke-width="0.9" fill="none"/>
<path class="k" d="M664.7,163.8 L659,153.2 L652.2,133.7 L652.2,119.9" style="stroke-width:2"/>
<path class="k" d="M666.4,160.6 L661.6,152.2 L655.2,133.2 L655.2,123.4"/>
<ellipse class="w" cx="684.6" cy="126.6" rx="1.7" ry="1.7"/>
<path d="M647.6,114.6 L653.4,117.8" stroke="#000" stroke-width="4.4" stroke-linecap="round"/>
<path d="M647.6,114.6 L653.4,117.8" stroke="#fff" stroke-width="2" stroke-linecap="round"/>
<path d="M668.6,131.4 L679,137.8" stroke="#000" stroke-width="5.2" stroke-linecap="round"/>
<path d="M668.6,131.4 L679,137.8" stroke="#fff" stroke-width="2.8" stroke-linecap="round"/>
<ellipse class="f" cx="669.6" cy="148.4" rx="2.7" ry="5.2" transform="rotate(8 669.6 148.4)"/>
<ellipse cx="646.8" cy="137" rx="2.6" ry="4.8" fill="#666" stroke="#000" stroke-width="1.2"/>
<path class="k" d="M649,135 L653,135.6"/>
<path class="ld" d="M626,132.8 L633.4,133.2"/>
<!-- cap 20 lower -->
<path class="wh" d="M701.4,144.6 C701.6,143.1 702.1,143.1 703,142.6 C703.9,142.1 705.6,141.8 707,141.8 C708.4,141.8 710.3,142.2 711.4,142.8 C712.5,143.4 713.2,144.1 713.4,145.6 C713.6,147.1 713.1,150.3 712.4,152 C711.7,153.7 710.3,155 709,155.6 C707.7,156.2 705.8,156.1 704.6,155.4 C703.4,154.7 702.1,153.2 701.6,151.4 C701.1,149.6 701.2,146.1 701.4,144.6Z"/>
<path class="f" d="M702,143.6 L707,141.6 L712.6,143.4 L713,147 L707.6,148.6 L701.6,147Z"/>
<path d="M705.6,143.4 L706.4,146.4 M708.8,143 L709.2,146.6" stroke="#fff" stroke-width="0.8" fill="none"/>
<path class="ld" d="M705.6,155.9 L705.6,166.2"/>
<!-- spring 27 lower -->
<path class="k" d="M724.4,138 C726,136 728,137 727.4,139.6 L726.6,143.4"/>
<path class="h" d="M721,145.6 L727.6,144 M720.6,148.8 L727.4,147.2 M720.4,152 L727.2,150.4 M720.2,155.2 L727,153.6 M720.4,158 L726.4,156.8"/>
<path class="t" d="M721,145.6 L720.2,158 M727.6,144 L726.4,157"/>
<path class="k" d="M722.4,158.6 L722,163 L723.6,165"/>
</g>
<g>
<!-- cap 20 upper -->
<path class="wh" d="M606.8,67 C607.1,65.3 607.6,64.7 608.6,64 C609.6,63.3 611.4,63 612.8,63 C614.2,63 616.1,63.3 617.2,64 C618.3,64.7 619,65.7 619.2,67.4 C619.4,69.1 619,72.2 618.4,74 C617.8,75.8 616.7,77.3 615.4,78 C614.1,78.7 611.8,78.7 610.4,78 C609,77.3 607.6,75.8 607,74 C606.4,72.2 606.5,68.7 606.8,67Z" style="stroke-width:2.2"/>
<path class="f" d="M607.4,65.6 L612.8,63 L618.6,65 L619,68.6 L613,70.2 L607,68.6Z"/>
<path d="M611,64.8 L611.8,68 M614.6,64.6 L615,68.2" stroke="#fff" stroke-width="0.9" fill="none"/>
<path class="ld" d="M614.1,44.4 L614.1,63"/>
<!-- spring 27 upper -->
<path class="ld" d="M630.5,49.5 L630.5,58.6"/>
<path class="k" d="M627.6,60.6 C629,58.6 631.6,59 631.4,61.6 L630.6,64.6"/>
<path class="h" d="M624.4,66.8 L631.6,65 M624,70 L631.4,68.2 M623.8,73.2 L631.2,71.4 M623.6,76.4 L631,74.6 M623.8,79.6 L630.4,78"/>
<path class="t" d="M624.4,66.8 L623.6,79.6 M631.6,65 L630.4,78.4"/>
<path class="k" d="M626,80.4 L625,83 L626.6,84.8"/>
<!-- wire spring 6 -->
<path class="k" d="M688.3,23.8 C688.9,23.8 690.8,23.9 692,23.6 C693.2,23.3 694.5,21.9 695.6,22.2 C696.8,22.5 698.4,24.9 698.9,25.4"/>
<path class="f" d="M698,24.4 L703,24 L708,27.4 L706.6,32 L700.6,31.6 L698.4,28.6Z"/>
<path d="M700.6,25.6 L702.6,30.6 M703.6,25.4 L705.2,30.8" stroke="#fff" stroke-width="0.7" fill="none"/>
<path class="k" d="M705,31.6 C705.3,31.9 704.5,32.2 707,33.5 C709.5,34.8 715.7,37.2 720,39.2 C724.3,41.2 728.8,44.1 733,45.7 C737.2,47.3 741.3,47.8 745.1,49 C748.9,50.2 753.1,51.9 755.7,53 C758.3,54.1 759.6,54.7 760.6,55.6 C761.6,56.5 761.9,57.4 761.6,58.2 C761.3,59.1 759.9,60.5 758.9,60.7 C757.9,60.9 756.2,59.7 755.7,59.5"/>
<path class="ld" d="M745.5,23.8 L745.5,48.7"/>
<!-- plate 3 -->
<path class="wh" d="M663.9,40 C663.8,39.2 667.4,39.1 670.4,39.2 C673.4,39.4 677.9,40 681.8,40.9 C685.7,41.8 690.6,43.5 694,44.9 C697.4,46.2 699.7,47.2 702.1,49 C704.5,50.8 705.6,53.3 708.6,55.5 C711.6,57.7 715.7,60.4 720,62 C724.3,63.6 730,63.5 734.6,65.2 C739.2,67 743.6,70.1 747.6,72.5 C751.6,74.9 757.7,78.2 758.9,79.8 C760.1,81.4 757,82.3 754.9,82.3 C752.8,82.3 749.1,80.2 746,79.8 C742.9,79.4 739.5,80.9 736.2,79.8 C733,78.7 731.9,76.5 726.5,73.3 C721.1,70 710.2,63.9 703.7,60.3 C697.2,56.6 692.9,54.1 687.5,51.4 C682.1,48.7 675.1,46 671.2,44.1 C667.3,42.2 664,40.8 663.9,40Z"/>
<path class="k" d="M668,41.4 C671,42.5 679.8,45.2 686,48 C692.2,50.8 698.3,54.3 705,58 C711.7,61.7 720.5,67.2 726,70.4 C731.5,73.6 736,76.2 738,77.4"/>
<path class="t" d="M672,42 C675,42.9 684.3,45.3 690,47.6 C695.7,49.9 700.7,52.7 706,55.6 C711.3,58.5 716.3,62.3 722,65 C727.7,67.7 735,69.6 740,72 C745,74.4 750,78.3 752,79.6"/>
<path class="f" d="M676,41 L686,42.4 L693,45.6 L691,48.6 L683,46.4Z"/>
<path class="f" d="M729.6,68.5 L737,67.6 L743.6,71.6 L743,78.4 L735.6,78.2 L730,73Z"/>
<path d="M733,70.6 L735,75.6 M737,70.4 L739.4,76.4" stroke="#fff" stroke-width="0.7" fill="none"/>
<ellipse class="f" cx="720.6" cy="62.6" rx="1.8" ry="1.6"/>
<path class="ld" d="M758.9,79.8 L773.6,79.8"/>
<!-- link 2 -->
<path class="wh" d="M662.3,58.9 L664.7,56.5 L674.5,56.5 L682.6,61.4 L681.8,65.4 L684.2,67.1 L694,70.3 L694,73.5 L685.9,72.7 L686.7,77.6 L684.2,81.7 L674.5,78.4 L662.3,72.7 L662.3,70.3 L668,67.9 L662.3,63Z" style="stroke-width:2.3"/>
<path class="h" d="M668.5,67.6 L680,71.4 L685.6,72.4"/>
<path class="k" d="M671,57 L672,62 L680,63.4 L681.6,61"/>
<path class="f" d="M669,68.6 L684,72.6 L690,73.4 L690,75 L683,75.4 L668.6,71.4Z"/>
<path class="k" d="M663,71.6 L675,76.6 L684,79.6"/>
<path class="wh" d="M687.5,78.4 C688.6,78.1 692.1,79.9 694,80 C695.9,80.1 697.5,78.4 698.9,79.2 C700.2,80 700,82.9 702.1,84.9 C704.2,86.9 709.5,90.1 711.8,91.4 C714.1,92.8 714.8,93.3 715.9,93 C717,92.7 716.5,90.2 718.3,89.8 C720.1,89.4 724.3,90.6 726.5,90.6 C728.7,90.6 730.5,90.5 731.3,89.8 C732.1,89.1 730.5,87.2 731.3,86.5 C732.1,85.8 735,85.4 736.2,85.7 C737.4,86 738.5,87 738.6,88.2 C738.7,89.4 735.9,91.9 737,93 C738.1,94.1 743.2,94.2 745.1,94.7 C747,95.2 747.9,95.5 748.4,96.3 C748.9,97.1 749.2,98.8 748.4,99.5 C747.6,100.2 745.8,100.4 743.5,100.3 C741.2,100.2 737.4,99.1 734.6,98.7 C731.8,98.3 728.9,97.6 726.5,97.9 C724.1,98.2 721.6,99.6 720,100.3 C718.4,101 718.6,102.3 716.7,102 C714.8,101.7 710.5,100 708.6,98.7 C706.7,97.4 707.5,95.7 705.3,93.9 C703.1,92.2 697.6,89.8 695.6,88.2 C693.6,86.6 694.6,85.2 693.2,84.1 C691.9,83 688.5,82.7 687.5,81.7 C686.5,80.8 686.4,78.7 687.5,78.4Z" style="stroke-width:2.3"/>
<ellipse class="k" cx="698.9" cy="83.3" rx="1.6" ry="1.6"/>
<path class="hh" d="M703,89.6 C704,90.6 706.8,93.9 709,95.6 C711.2,97.3 714.8,98.9 716,99.6"/>
<path class="k" d="M720.6,92.6 C721.8,92.9 725.4,93.9 728,94.4 C730.6,94.9 733.3,95.1 736,95.6 C738.7,96.1 742.7,97.3 744,97.6"/>
<path class="k" d="M731.6,89.8 L737,90.6"/>
<ellipse class="t" cx="746.6" cy="97.9" rx="1.4" ry="2.2"/>
<path class="ld" d="M749.2,97.9 L771.9,98.7"/>
<!-- nut 46 -->
<path class="wh" d="M721,109 C721.3,107.2 722.5,106.2 724,105.6 C725.5,105 728.2,104.8 730,105.2 C731.8,105.6 733.7,106.7 734.6,108 C735.5,109.3 735.7,111.4 735.4,113 C735.1,114.6 734.4,116.6 733,117.6 C731.6,118.6 728.8,119.2 727,119 C725.2,118.8 723,118.3 722,116.6 C721,114.9 720.7,110.8 721,109Z" style="stroke-width:2.4"/>
<ellipse class="h" cx="728.6" cy="111.6" rx="3.8" ry="3.2"/>
<path class="k" d="M726.4,111 L731,112.4"/>
<path class="k" d="M721.6,112 C722,112.6 722.9,114.8 724,115.6 C725.1,116.4 726.5,117 728,117 C729.5,117 732.2,115.7 733,115.4"/>
<path class="ld" d="M735.6,112.5 L746.8,112.5"/>
</g>
<g>
<!-- washer 29 right -->
<ellipse class="wh" cx="665.9" cy="236.9" rx="7" ry="7.9" transform="rotate(12 665.9 236.9)" style="stroke-width:2.4"/>
<ellipse class="f" cx="666.3" cy="237" rx="2.9" ry="4.8" transform="rotate(12 666.3 237)"/>
<path class="ld" d="M665.1,245.9 L665.1,255.6"/>
<!-- bolt 23 -->
<path class="f" d="M674.6,239.2 L676.4,238.8 L706,255.4 L704,259.8 L674,242.4Z"/>
<path d="M677,241.2 L678.6,243.6 M680,242.8 L681.6,245.2 M683,244.4 L684.6,246.8 M686,246 L687.6,248.4 M691,249 L700,254" stroke="#fff" stroke-width="0.8" fill="none"/>
<path class="wh" d="M704.4,256 C704.9,254.7 706.4,254.8 707.6,254.6 C708.8,254.4 710.3,254.5 711.7,254.8 C713.1,255.1 714.9,255.8 716,256.6 C717.1,257.4 718,258.2 718.4,259.7 C718.8,261.1 719.3,263.8 718.6,265.3 C717.9,266.8 715.9,268.3 714.2,268.6 C712.5,268.9 710.1,268 708.5,267 C706.9,266 705.3,264.4 704.6,262.6 C703.9,260.8 703.9,257.3 704.4,256Z" style="stroke-width:2.3"/>
<ellipse class="k" cx="714.6" cy="263.2" rx="3.2" ry="4.4" transform="rotate(12 714.6 263.2)"/>
<path class="k" d="M706.6,256.4 L709,266"/>
<path class="ld" d="M705.7,267.4 L705.7,282.4"/>
<!-- link 28 -->
<path class="wh" d="M721.5,275.1 C721.6,273.4 721.8,270.4 723.1,268.6 C724.5,266.8 727.4,264.8 729.6,264.5 C731.8,264.2 733.9,266.1 736.1,267 C738.3,267.9 740.4,270.2 742.6,270.2 C744.8,270.2 747.4,267.3 749.1,267 C750.9,266.7 752.4,267 753.1,268.6 C753.9,270.2 754.6,274.3 753.6,276.7 C752.6,279.1 749.5,282.6 747.4,283.2 C745.3,283.8 743.1,280.7 741,280 C738.9,279.3 737,278.8 734.5,279.1 C732,279.4 728.3,281.6 726.3,281.6 C724.3,281.6 723.1,280.2 722.3,279.1 C721.5,278 721.4,276.9 721.5,275.1Z" style="stroke-width:2.3"/>
<ellipse class="k" cx="730.4" cy="273.5" rx="4.2" ry="5.4" transform="rotate(14 730.4 273.5)"/>
<ellipse class="h" cx="730.8" cy="273.6" rx="2.3" ry="3.5" transform="rotate(14 730.8 273.6)"/>
<ellipse class="h" cx="748.3" cy="275.6" rx="1.9" ry="3.4" transform="rotate(10 748.3 275.6)"/>
<path class="t" d="M736.6,272 L737.2,277.6"/>
<path class="t" d="M739,272.6 L739.4,278"/>
<path class="ld" d="M738.2,279.6 L738.2,296.2"/>
<!-- screw 43 -->
<path class="f" d="M758,280 C758.5,279.1 760.1,277.6 762.1,277.5 C764.1,277.4 767.8,277.9 770.2,279.1 C772.6,280.3 775.6,283.2 776.7,284.8 C777.8,286.4 777.4,287.8 776.7,288.9 C776,290 774.8,291.3 772.6,291.3 C770.4,291.3 766,290.2 763.7,288.9 C761.4,287.5 759.8,284.7 758.8,283.2 C757.8,281.7 757.5,280.9 758,280Z"/>
<ellipse class="w" cx="774.2" cy="287.2" rx="2.6" ry="3.9" transform="rotate(14 774.2 287.2)"/>
<path d="M763,280.6 L766,285.6 M766.6,280.6 L769,284.6" stroke="#fff" stroke-width="0.8" fill="none"/>
<path class="ld" d="M771,291.6 L771,305.6"/>
</g>
<g>
<!-- nut 45 -->
<ellipse class="f" cx="774.6" cy="212.8" rx="7.6" ry="8"/>
<ellipse class="w" cx="777.6" cy="212.4" rx="4.4" ry="6.6" transform="rotate(8 777.6 212.4)"/>
<ellipse class="t" cx="777.9" cy="212.5" rx="1.3" ry="1.6"/>
<path d="M769,209 L770.6,209.6 M768.6,214 L770,214.4" stroke="#fff" stroke-width="0.8" fill="none"/>
<path class="ld" d="M777.1,188.6 L777.1,204.9"/>
<!-- bushing 24 left -->
<ellipse class="f" cx="795.2" cy="210.7" rx="8.2" ry="8"/>
<path d="M791,205 C789.6,209 789.8,213 791.2,216.6 M794,204 C792.6,208.6 792.8,213.6 794.2,217.6" stroke="#fff" stroke-width="0.8" fill="none"/>
<ellipse class="w" cx="799.6" cy="209.9" rx="3.6" ry="4.6" transform="rotate(8 799.6 209.9)"/>
<ellipse class="f" cx="800" cy="210" rx="1.6" ry="2.2" transform="rotate(8 800 210)"/>
<path class="ld" d="M796.4,190.8 L796.4,203.2"/>
<!-- bracket 21 -->
<path class="w" d="M878.4,186 C877.5,183.4 879.8,184.5 881,184.2 C882.2,183.9 882.9,183.5 885.5,184 C888.1,184.5 894.2,186 896.9,187.1 C899.6,188.2 901,189.4 901.9,190.7 C902.8,192 902.5,193.8 902.4,195 C902.3,196.2 902.1,196.9 901.2,197.8 C900.3,198.8 897.9,199.5 896.9,200.7 C895.9,201.9 896.8,204.2 895.5,204.9 C894.2,205.6 890.5,205.7 889,204.9 C887.5,204.1 888.4,203.2 886.6,200 C884.8,196.8 879.3,188.6 878.4,186Z" style="stroke-width:1.9"/>
<ellipse class="k" cx="896.4" cy="194.2" rx="4.6" ry="6" transform="rotate(8 896.4 194.2)"/>
<ellipse class="h" cx="896.9" cy="194.2" rx="2.8" ry="4.2" transform="rotate(8 896.9 194.2)"/>
<path class="w" d="M851.3,197.8 L866.2,191.4 L878.4,188.5 L886.9,189.3 L886.2,209.9 L874.1,214.9 L858.4,211.4 L852.7,209.2Z" style="stroke-width:1.9"/>
<path class="k" d="M852.6,198.6 L885.6,207.8"/>
<path class="k" d="M866,202.6 L872,208.6 L884,208.2"/>
<path class="k" d="M858.4,211.4 L861,207.6 L872.6,210.6"/>
<path class="f" d="M871,211 L874.6,211.4 L874.4,214.6 L871,214Z"/>
<path class="h" d="M886.9,189.5 L886.2,209.6"/>
<path class="w" d="M824.2,212.8 C824.7,211.1 826.9,205.4 827,202.8 C827.1,200.2 824.8,198.5 824.9,197.1 C825,195.7 825.7,194.7 827.7,194.2 C829.7,193.7 834,193.7 837,194.2 C840,194.7 843,195.5 845.6,197.1 C848.2,198.7 851.8,201.6 852.7,203.5 C853.7,205.4 852.5,206.9 851.3,208.5 C850.1,210.1 846.8,211.2 845.6,212.8 C844.4,214.4 844.4,217 844.1,217.8" style="stroke-width:1.9"/>
<path class="k" d="M828.4,202.1 C828.6,201.4 828,198.6 829.9,197.8 C831.8,197 837.3,196.6 839.9,197.1 C842.5,197.6 843.7,199.4 845.6,200.7 C847.5,201.9 849.2,203.8 851.3,204.6 C853.4,205.4 856.9,205.4 858,205.6"/>
<path class="t" d="M826.4,204 L824.9,212"/>
<path class="w" d="M812,217.8 C812.7,216.8 814.5,214.9 817,214.2 C819.5,213.5 822.5,212.9 827,213.5 C831.5,214.1 843.4,215.9 844.1,217.8 C844.8,219.7 835.8,224.2 831.3,224.9 C826.8,225.6 820.1,222.8 817,222 C813.9,221.2 813.4,221.1 812.6,220.4 C811.8,219.7 811.3,218.8 812,217.8Z" style="stroke-width:1.9"/>
<ellipse class="k" cx="827.7" cy="219.9" rx="1.8" ry="1.3"/>
<path class="ld" d="M866.9,171.6 L866.9,190.6"/>
</g>
<g>
<!-- collar 22 -->
<path class="wh" d="M911.4,186.7 L924,186.4 C927.4,187.6 927.6,194.6 924.4,196 L911.4,196.4 C906,196 906,187 911.4,186.7 Z"/>
<ellipse class="f" cx="922.6" cy="190.8" rx="2.6" ry="3.4"/>
<ellipse class="w" cx="922.4" cy="190.9" rx="0.9" ry="1.3" style="stroke:none"/>
<path class="ld" d="M917.7,167.4 L917.7,186.1"/>
<!-- bushing 24 right -->
<path class="wh" d="M931,182.4 C932,181 934.8,177.9 936,180 C937.2,182.1 938.6,192.7 938,195 C937.4,197.3 934,194.7 932.6,193.6 C931.2,192.5 930.1,190.5 929.8,188.6 C929.5,186.7 930,183.8 931,182.4Z"/>
<path class="t" d="M933,181.6 C931.6,185.6 932,190 933.6,193.8"/>
<ellipse class="f" cx="940.6" cy="187.2" rx="6.2" ry="8.2" transform="rotate(8 940.6 187.2)"/>
<ellipse class="w" cx="941" cy="186.9" rx="3.6" ry="4.8" transform="rotate(8 941 186.9)"/>
<ellipse class="k" cx="941.6" cy="187" rx="1.7" ry="2.6" transform="rotate(8 941.6 187)"/>
<path class="ld" d="M941.7,164.8 L941.7,179.2"/>
<!-- bolt 33 -->
<path class="f" d="M954.4,180.6 L970,178 L971,183.6 L955.6,186.4 L953.8,183.6Z"/>
<path d="M957,181 L958,185.6 M960,180.6 L961,185 M963,180 L964,184.6 M966,179.6 L967,184" stroke="#fff" stroke-width="0.8" fill="none"/>
<path class="wh" d="M970,177.8 L977.4,176.6 L978.4,182.4 L971,183.8Z"/>
<path class="wh" d="M977.1,176 C977.9,174.7 980.1,173.2 982.2,172.8 C984.3,172.4 987.9,172.7 989.7,173.5 C991.5,174.3 992.7,176.2 992.9,177.9 C993.1,179.6 992.4,182 991,183.6 C989.6,185.2 986.7,187.2 984.7,187.4 C982.7,187.6 980.2,186 979,184.8 C977.8,183.6 977.5,181.9 977.2,180.4 C976.9,178.9 976.3,177.3 977.1,176Z" style="stroke-width:2.6"/>
<path class="k" d="M981.6,174 L983,186.2"/>
<path class="k" d="M986.6,174 L987.6,185.4"/>
<path class="t" d="M979,179 L983,178.4"/>
<path class="ld" d="M982.2,157.8 L982.2,173"/>
<!-- FR arrow -->
<path class="f" d="M1010.5,58.1 L1029.5,49 L1029.3,44.2 L1044.4,50.5 L1039.4,66 L1036.5,62.9 L1015.4,71.7Z"/>
<text x="0" y="0" transform="translate(984.6,83) rotate(-21)" style="font-family:'Liberation Sans',sans-serif;font-weight:bold;font-size:17px;letter-spacing:0.6px;stroke:#000;stroke-width:0.9px;fill:#000">FR.</text>
</g>
<g>
<!-- clamp 4 -->
<path class="w" d="M821.6,263.8 C821.8,262.9 822.2,261.6 824.4,260.9 C826.5,260.2 830.9,259.2 834.5,259.5 C838.1,259.8 843.2,260.9 846.1,262.4 C849,263.8 850.2,266.8 851.9,268.2 C853.6,269.6 854.8,270.9 856.2,271 C857.6,271.1 859,270.9 860.5,268.9 C862,266.9 863.4,261.4 864.9,258.8 C866.4,256.2 866.6,254.7 869.2,253 C871.9,251.3 876.7,249.2 880.8,248.7 C884.9,248.2 891,249.5 893.8,250.1 C896.6,250.7 896.9,251 897.4,252.3 C897.9,253.6 898.2,256.3 896.6,258 C895,259.7 891.1,260.2 888,262.4 C884.9,264.6 881.3,268.2 877.9,271 C874.5,273.8 870.9,277.6 867.8,279 C864.7,280.4 862.2,279.8 859.1,279.7 C856,279.6 851.9,279.3 849,278.3 C846.1,277.3 844.2,275.8 841.8,273.9 C839.4,272 837.6,268 834.5,266.7 C831.4,265.4 825.1,266.5 823,266 C820.9,265.5 821.4,264.7 821.6,263.8Z" style="stroke-width:2"/>
<path class="k" d="M838.9,262.4 C839.4,263.5 840.1,267.2 841.8,268.9 C843.5,270.6 847,272.1 849,272.5 C851,272.9 853.2,271.8 854,271.6"/>
<path class="k" d="M843.2,272.5 C844.7,273.1 849,275.6 851.9,276.1 C854.8,276.6 857.9,276.2 860.5,275.4 C863.1,274.5 865.4,273.5 867.8,271 C870.2,268.5 872.1,263.1 875,260.2 C877.9,257.3 882.1,254.9 885.1,253.7 C888.1,252.5 891.7,253.1 893,253"/>
<path class="hh" d="M866.3,267.4 C867,266.2 868,262.6 870.6,260.2 C873.2,257.8 879.5,254.3 882.2,253 C884.9,251.7 886.2,252.5 887,252.4"/>
<path class="t" d="M866,276.6 C867.7,275.3 872.7,271.3 876,268.6 C879.3,265.9 882.8,262.4 886,260.4 C889.2,258.4 893.5,257.1 895,256.4"/>
<path class="k" d="M893.6,250.4 L893,257.6"/>
<path class="ld" d="M862,280.6 L862,296.3"/>
<path class="wh" d="M836,283.6 L840,282.4 L844.4,300.4 L840,301.4Z"/>
<path class="k" d="M836.6,286.6 L841,285.4 M837.4,289.6 L841.8,288.4 M838.2,292.6 L842.6,291.4 M839,295.6 L843.4,294.4 M839.6,298.4 L844,297.2"/>
<path class="wh" d="M832.8,303.6 C833.8,302.1 837.8,300.1 840.2,300 C842.6,299.9 846.3,301.8 847.4,303.2 C848.5,304.6 847.9,306.9 846.8,308.4 C845.7,309.9 843.1,312.3 841,312.4 C838.9,312.5 835.6,310.5 834.2,309 C832.8,307.5 831.8,305.1 832.8,303.6Z" style="stroke-width:2.4"/>
<path class="h" d="M833.4,305.4 C834.6,305.8 838.1,307.7 840.4,307.6 C842.7,307.5 845.9,305.4 847,305"/>
<path class="k" d="M838.8,308 L839.2,311.6"/>
<path class="k" d="M842.8,307.6 L843,310.6"/>
<path class="wh" d="M881.6,281.2 L885.6,280 L890,298 L885.6,299Z"/>
<path class="k" d="M882.2,284.2 L886.6,283 M883,287.2 L887.4,286 M883.8,290.2 L888.2,289 M884.6,293.2 L889,292 M885.2,296 L889.6,294.8"/>
<path class="wh" d="M878.4,301.2 C879.4,299.7 883.4,297.7 885.8,297.6 C888.2,297.5 891.9,299.4 893,300.8 C894.1,302.2 893.5,304.5 892.4,306 C891.3,307.5 888.7,309.9 886.6,310 C884.5,310.1 881.2,308.1 879.8,306.6 C878.4,305.1 877.4,302.7 878.4,301.2Z" style="stroke-width:2.4"/>
<path class="h" d="M879,303 C880.2,303.4 883.7,305.3 886,305.2 C888.3,305.1 891.5,303 892.6,302.6"/>
<path class="k" d="M884.4,305.6 L884.8,309.2"/>
<path class="k" d="M888.4,305.2 L888.6,308.2"/>
<path class="ld" d="M839.2,312.8 L839.2,320.6"/>
<path class="ld" d="M886.8,310.2 L886.8,314.6"/>
</g>
<g>
<!-- bolt 35 upper -->
<path class="wh" d="M891.7,353 L896.8,353.8 L894.6,364.6 L888.1,363.9Z"/>
<path class="k" d="M891,356.4 L896.2,357 M890.2,359.2 L895.6,359.8 M889.4,362 L895,362.6"/>
<path class="wh" d="M888.8,345.1 C889.6,344.1 891.4,343 893.2,342.9 C895,342.8 898.4,343.3 899.7,344.4 C901,345.5 901.5,348 901.1,349.4 C900.7,350.8 899.2,352.5 897.5,353 C895.8,353.5 892.5,353 891,352.3 C889.5,351.6 888.9,349.9 888.5,348.7 C888.1,347.5 888,346.1 888.8,345.1Z" style="stroke-width:2.4"/>
<path class="k" d="M892.6,344 L893,351.6"/>
<path class="ld" d="M901.1,350.9 L910.5,351.2"/>
<!-- washer 36 upper -->
<ellipse class="wh" cx="888.8" cy="373.3" rx="8" ry="4.8" transform="rotate(18 888.8 373.3)" style="stroke-width:2.3"/>
<ellipse class="h" cx="889" cy="373" rx="3.6" ry="2.3" transform="rotate(18 889 373)"/>
<path class="ld" d="M896.4,374.8 L914.8,376.1"/>
<!-- u-joint 14 -->
<path class="w" d="M813.8,367.9 C815,364.4 821.3,365.4 823.9,365.3 C826.5,365.2 827.9,366.6 829.6,367.5 C831.3,368.4 832.8,370.4 834,370.4 C835.2,370.4 835.5,368.4 836.9,367.5 C838.3,366.6 840.7,365.6 842.6,365.3 C844.5,365.1 846.8,366.1 848.4,366 C850,365.9 850.1,364.9 852,364.6 C853.9,364.3 857.7,363.8 860,364.4 C862.3,365 864.8,367.1 865.7,368.5 C866.7,369.9 864.5,371.1 865.7,372.5 C866.9,373.9 871.1,375.2 873,376.9 C874.9,378.6 875.9,381.9 877.3,382.6 C878.7,383.3 879.9,381.4 881.6,381.2 C883.3,381 885,380 887.4,381.2 C889.8,382.4 894.6,386.4 896.1,388.4 C897.6,390.4 896.7,391.6 896.6,393 C896.5,394.4 896.3,395.9 895.3,397.1 C894.2,398.3 893.5,399.8 890.3,400 C887,400.2 880.4,398.5 875.8,398.5 C871.2,398.5 865.9,399.5 862.8,400 C859.7,400.5 859.2,401.4 857.1,401.4 C855,401.4 853,401.4 849.9,400 C846.8,398.6 841.4,394.4 838.3,392.7 C835.2,391 834.7,391 831.1,389.9 C827.5,388.8 819.6,389.9 816.7,386.2 C813.8,382.5 812.6,371.4 813.8,367.9Z" style="stroke-width:1.9"/>
<ellipse class="wh" cx="812.3" cy="376.9" rx="7.2" ry="8.8" transform="rotate(8 812.3 376.9)" style="stroke-width:2.6"/>
<ellipse class="k" cx="812.6" cy="377" rx="4.4" ry="6.4" transform="rotate(8 812.6 377)"/>
<path class="t" d="M809.6,373.6 L814.6,373 M809,376.6 L815.6,376 M809.4,379.6 L815.4,379.2 M810.6,382.2 L814.4,382"/>
<path class="hh" d="M820,368 L824,366.6 L828,368.4"/>
<ellipse class="f" cx="828.9" cy="378.3" rx="2" ry="3.8" transform="rotate(8 828.9 378.3)"/>
<path class="k" d="M819.6,372 C820.2,371.8 821.8,370.5 823,370.6 C824.2,370.7 826.3,372.1 827,372.4"/>
<ellipse class="wh" cx="857.1" cy="369.6" rx="8.4" ry="5" transform="rotate(14 857.1 369.6)"/>
<ellipse class="h" cx="857.6" cy="369.6" rx="5" ry="2.9" transform="rotate(14 857.6 369.6)"/>
<ellipse class="f" cx="858" cy="369.7" rx="2.6" ry="1.4" transform="rotate(14 858 369.7)"/>
<path class="k" d="M848.6,368.6 C848.8,369.4 848.8,372.3 850,373.6 C851.2,374.9 853.8,376 856,376.4 C858.2,376.8 861.3,376.6 863,376 C864.7,375.4 865.5,373.2 866,372.6"/>
<path class="k" d="M843,378 C842.6,378.8 841,381.2 840.6,383 C840.2,384.8 840,387.2 840.4,389 C840.8,390.8 842.6,393.2 843,394"/>
<path class="k" d="M847,377.6 C846.6,378.5 845.2,381 844.8,383 C844.4,385 844.3,387.5 844.8,389.6 C845.3,391.7 847.5,394.6 848,395.6"/>
<path class="k" d="M851.4,378.4 C851.1,379.3 849.9,382.1 849.6,384 C849.3,385.9 849.4,388 849.8,390 C850.2,392 851.6,395 852,396"/>
<path class="k" d="M843,378 L857,381.6"/>
<path class="k" d="M834,370.4 L843,378"/>
<ellipse class="f" cx="858.5" cy="390.6" rx="6.8" ry="8.2" transform="rotate(12 858.5 390.6)"/>
<ellipse class="w" cx="859.4" cy="390.6" rx="3.6" ry="5.2" transform="rotate(12 859.4 390.6)"/>
<path class="k" d="M866,380.6 C866.8,380.7 869.4,380.6 871,381 C872.6,381.4 875,382.7 875.8,383"/>
<path class="k" d="M875.8,382.6 L875.1,397.6"/>
<path class="k" d="M866,379.6 C866.5,379.3 867.7,378 869,378 C870.3,378 873.2,379.2 874,379.4"/>
<ellipse class="t" cx="884.5" cy="384.8" rx="2" ry="1.4" transform="rotate(20 884.5 384.8)"/>
<path class="h" d="M853.6,401 L857.6,402"/>
<path class="ld" d="M849.9,401 L849.9,413"/>
</g>
<g>
<!-- coupling 5 -->
<path class="w" d="M731,340.8 C729.1,341.4 725.7,342.2 723.8,344.5 C721.9,346.8 720.4,351.2 719.5,354.6 C718.6,358 718.4,361.8 718.7,364.7 C719.1,367.6 720.8,370 721.6,371.9 C722.5,373.8 721.8,374.8 723.8,376.2 C725.8,377.6 729.8,379.4 733.9,380.6 C738,381.8 744.1,383 748.4,383.5 C752.7,384 757.3,383.1 759.9,383.5 C762.5,383.9 762.3,385.2 764.2,385.6 C766.1,386 769.1,386.7 771.5,385.6 C773.9,384.5 776.9,381.9 778.7,379.1 C780.5,376.3 781.9,372.4 782.3,369 C782.7,365.6 782,361.5 780.9,358.9 C779.8,356.2 778.1,354.6 775.8,353.1 C773.5,351.7 769.3,351.3 767.1,350.2 C764.9,349.1 765.9,347.7 762.8,346.6 C759.7,345.5 753,344.7 748.4,343.7 C743.8,342.7 738.2,341.3 735.3,340.8 C732.4,340.3 732.9,340.2 731,340.8Z" style="stroke-width:2"/>
<path class="hh" d="M767.1,350.2 C767.5,351.6 769,355.5 769.3,358.9 C769.5,362.3 769.7,366.9 768.6,370.5 C767.5,374.1 764.2,378.4 762.8,380.6 C761.3,382.8 760.4,383 759.9,383.5" style="stroke-width:2.8"/>
<path class="k" d="M771.5,351.6 C771.9,353 773.8,356.6 774,360 C774.2,363.4 774,368.3 773,372 C772,375.7 769.3,379.8 768,382 C766.7,384.2 765.5,384.5 765,385"/>
<ellipse class="t" cx="776.5" cy="361.1" rx="1.6" ry="1.8"/>
<ellipse class="t" cx="770.8" cy="380.6" rx="1.6" ry="1.6"/>
<path class="h" d="M731.6,342 C732.2,342.9 734.2,345.4 735.3,347.3 C736.4,349.2 736.5,351.5 738.2,353.1 C739.9,354.7 743.9,355.4 745.5,356.7 C747.1,358 747.9,359.1 747.6,361.1 C747.4,363.2 745.6,366.7 744,369 C742.4,371.3 740.6,373.6 738.2,374.8 C735.8,376 732.1,376.4 729.6,376.2 C727.1,376 724.3,374.6 723.1,373.4 C721.9,372.2 721.7,370.1 722.3,369 C722.9,367.9 723.6,366.7 726.7,366.8 C729.8,366.9 738.7,369.2 741.1,369.7" style="stroke-width:2.4"/>
<path class="k" d="M729,343.6 C728.4,344.5 726.2,346.7 725.2,348.8 C724.2,350.9 723.3,353.9 722.8,356 C722.3,358.1 719.5,359.5 722.3,361.1 C725.1,362.7 736.8,364.7 739.7,365.4"/>
<path class="t" d="M727,348 C726.6,349.3 725,354 724.6,356 C724.2,358 724.6,359.3 724.6,360"/>
<path class="t" d="M725,371 C725.8,371.4 728,373.3 730,373.6 C732,373.9 735,373.5 737,372.6 C739,371.7 741.2,368.8 742,368"/>
<path class="f" d="M729,341.4 L733,340.6 L736,344.6 L733.4,346Z"/>
<path class="k" d="M740,355.6 C740.6,356.2 742.8,357.8 743.6,359 C744.4,360.2 744.8,361.6 744.6,363 C744.4,364.4 742.9,366.8 742.6,367.6"/>
<path class="ld" d="M750.5,384.4 L750.5,391.4"/>
</g>
<g>
<!-- mount plate -->
<path class="w" d="M772.2,408.8 C770.2,401.6 772.9,406.1 777.7,406.7 C782.5,407.3 794.2,409.6 801.1,412.2 C808,414.8 813.2,418.5 819.2,422.1 C825.2,425.7 830.5,430.7 837.2,433.8 C843.9,436.9 851.8,437.6 859.5,440.8 C867.2,444 878.5,449.8 883.3,452.8 C888.1,455.8 887.6,456.2 888.3,458.7 C889,461.2 888.3,465.3 887.3,467.6 C886.3,469.9 883.8,470.6 882.3,472.6 C880.8,474.6 880.8,476 878.3,479.6 C875.8,483.2 870.4,490.4 867.4,494.4 C864.4,498.4 862.8,501.4 860.5,503.4 C858.2,505.4 857.6,506.2 853.5,506.4 C849.4,506.6 839.2,503.9 835.7,504.4 C832.2,504.9 834.2,507.8 832.7,509.3 C831.2,510.8 828,511.5 826.7,513.3 C825.4,515.1 827.8,520.5 824.7,520.2 C821.6,519.9 811.4,514.1 807.9,511.3 C804.4,508.5 804.4,505.9 803.9,503.4 C803.4,500.9 803.9,497.9 804.9,496.4 C805.9,494.9 807.4,495 809.9,494.4 C812.4,493.8 818.4,496.6 819.8,492.5 C821.1,488.4 823,477.1 818,470 C813,462.9 797.6,460.2 790,450 C782.4,439.8 774.2,416 772.2,408.8Z" style="stroke-width:1.8"/>
<path class="k" d="M880,472.4 C877.7,475.5 869.6,486.3 866,491 C862.4,495.7 860.8,498.3 858.6,500.4 C856.4,502.5 856.8,503.2 853,503.4 C849.2,503.6 838.8,501.9 836,501.6"/>
<path class="h" d="M881,472 L879,478.4"/>
<path class="k" d="M778,409.6 C781.8,410.5 794.3,412.5 801,415 C807.7,417.5 812.2,421 818,424.6 C823.8,428.2 829.3,433.4 836,436.6 C842.7,439.8 854.3,442.8 858,444"/>
<path class="k" d="M861.5,441.8 L860.5,449.8 L868,452"/>
<ellipse class="f" cx="878.3" cy="462.7" rx="2.5" ry="3.6" transform="rotate(10 878.3 462.7)"/>
<ellipse class="f" cx="854.5" cy="497.4" rx="3" ry="2"/>
<ellipse class="t" cx="854.5" cy="497.4" rx="4.4" ry="3"/>
<path class="k" d="M807.9,497 L822,504.6 L827,513"/>
<path class="t" d="M822,504.6 L826,500.6"/>
<path class="t" d="M812,499 L818,502.4"/>
<!-- boot 12 -->
<path class="w" d="M757.8,413.1 L768.6,410.3 L777.7,410.3 L801.1,419.4 L826.4,434.7 L835.4,439.2 L855.5,449.8 C862,457 864.4,466 861.5,477.6 L855.5,483.5 L820.8,488.5 L819.8,476.6 L812,470.8 L801.1,463.6 L784.9,454.6 L768.6,450.1 L761.4,447.4 L756,442 Z"/>
<ellipse class="wh" cx="748" cy="427.8" rx="9" ry="16.2" transform="rotate(-6 748 427.8)" style="stroke-width:1.7"/>
<ellipse class="wh" cx="745.4" cy="427.6" rx="9" ry="16.4" transform="rotate(-6 745.4 427.6)" style="stroke-width:1.7"/>
<path class="w" d="M742,411.4 L750,411.8 L752,443.6 L744,444Z" style="stroke:none"/>
<ellipse class="wh" cx="741.6" cy="427.5" rx="12.6" ry="16.4" transform="rotate(-6 741.6 427.5)" style="stroke-width:1.9"/>
<ellipse class="k" cx="740.4" cy="427" rx="8.2" ry="13.4" transform="rotate(-6 740.4 427)"/>
<path class="k" d="M745.6,416.6 C744,423 744.4,432 746.4,438.6"/>
<path class="k" d="M748.4,415.4 C747,423 747.6,433 749.6,440"/>
<path class="k" d="M741.4,411.2 L751,411.6 M743.6,443.8 L752,443"/>
<path class="t" d="M753.4,412 C756.6,420 757,436 754.6,443.4"/>
<path class="t" d="M765,411.6 C769,424 768.6,438 767.4,449.4"/>
<path class="t" d="M777.7,411 C782.4,424 780.6,440 774.6,451.4"/>
<path class="t" d="M788.6,415 C793.6,428 792,444 786.6,455"/>
<path class="t" d="M810,440 C809,450 806,458 801.6,463.6" stroke-dasharray="5 3"/>
<path class="k" d="M829.1,435.6 C836.6,446 835.4,458 817.4,473.6"/>
<path class="k" d="M832.6,437.6 C840.6,449 838.4,461 820,476.4"/>
<path class="t" d="M850,456 C852,466 850,474 846,482" stroke-dasharray="4 3"/>
<path class="t" d="M858,462 C859,470 858,476 855,482"/>
<path class="t" d="M789,495 L820.8,488.5 L853,484.3 L854.4,494.4"/>
<path class="t" d="M822,481 C830,486 842,486 850,484" stroke-dasharray="5 3"/>
<!-- bolt 38 -->
<path class="wh" d="M778.6,471.7 C778.6,470.2 779.6,468.2 781.3,467.2 C782.9,466.1 786.4,465.1 788.5,465.4 C790.6,465.7 793,467.5 793.9,469 C794.8,470.5 794.8,473.1 793.9,474.5 C793,475.9 790.6,476.9 788.5,477.2 C786.4,477.5 782.9,477.2 781.3,476.3 C779.6,475.4 778.6,473.2 778.6,471.7Z" style="stroke-width:2.3"/>
<path class="k" d="M779,472.6 C780.2,472.9 783.6,474.5 786,474.4 C788.4,474.3 792.3,472.4 793.6,472"/>
<path class="f" d="M784,477.2 L790.3,477.6 L790.3,489.8 L784.9,488.9Z"/>
<path d="M785.6,480.6 L789.6,481 M785.6,483.6 L789.6,484 M785.6,486.6 L789.6,487" stroke="#fff" stroke-width="0.8" fill="none"/>
<path class="ld" d="M726.2,452.8 L732.5,452.8 L779.5,471.7"/>
<path class="ld" d="M724.4,423.9 L729.8,423.9"/>
<path class="ld" d="M685.6,438.7 L695.7,438.7"/>
<path class="ld" d="M705.4,423.5 L695.7,423.5 L695.7,452.4 L705.4,452.4"/>
<!-- bolt 41 -->
<path class="wh" d="M891.6,499.6 L898.2,497.4 L900.4,504.4 L894.2,507.6Z"/>
<path class="wh" d="M878.3,503.4 C878.5,502 879.2,500.4 880,499.6 C880.8,498.8 881.4,498.4 883.3,498.4 C885.2,498.4 889.6,498.2 891.2,499.4 C892.9,500.6 893.5,503.2 893.2,505.4 C892.9,507.5 891.1,511.1 889.3,512.3 C887.5,513.4 884.1,513 882.3,512.3 C880.5,511.6 879.3,509.5 878.6,508 C877.9,506.5 878.1,504.8 878.3,503.4Z" style="stroke-width:2.4"/>
<path class="k" d="M884,499 L885.6,512"/>
<path class="k" d="M879,504 L885,505"/>
<path class="k" d="M885.4,506 L892.6,504"/>
<path class="ld" d="M891.6,511.4 L911.1,511.7"/>
<path class="ld" d="M872,465.6 L868.4,467.6 L917,492.5 L903.2,499.4"/>
<!-- washer 36 lower -->
<ellipse class="wh" cx="899.5" cy="411.2" rx="6.6" ry="8.2" transform="rotate(10 899.5 411.2)" style="stroke-width:2.4"/>
<ellipse class="f" cx="900" cy="411.2" rx="2.3" ry="3.5" transform="rotate(10 900 411.2)"/>
<path class="ld" d="M897.9,419.6 L897.3,440.5"/>
<!-- bolt 35 lower -->
<path class="f" d="M907.1,412.6 L909,411.6 L919,417 L917.4,422.6 L906.4,416.2Z"/>
<path d="M909.6,414 L911,417 M912.6,415.6 L914,418.6 M915.4,417.2 L916.6,420" stroke="#fff" stroke-width="0.8" fill="none"/>
<path class="wh" d="M917.9,416.7 C918.9,415.8 921.4,415.3 923.3,415.6 C925.2,415.9 928.1,417.1 929.3,418.3 C930.5,419.5 930.6,421.2 930.3,422.6 C930,424 928.9,426 927.6,426.9 C926.4,427.8 924.4,428.3 922.8,428 C921.2,427.7 918.9,426.5 917.9,425.3 C916.9,424.1 917,422.4 917,421 C917,419.6 916.9,417.6 917.9,416.7Z" style="stroke-width:2.4"/>
<path class="k" d="M922,416.4 L921,427"/>
<path class="t" d="M918,420.6 L921.6,421"/>
<path class="ld" d="M923.3,428.8 L923.3,445.3"/>
</g>
<g>
<!-- clamp 15 -->
<path class="k" d="M693.5,464.1 C691.5,465.5 684,469.5 681.3,472.5 C678.6,475.5 678,478.4 677.5,481.9 C677,485.3 677.5,489.6 678.5,493.2 C679.5,496.8 680.9,501.2 683.2,503.5 C685.5,505.8 691,506.6 692.5,507.2" style="stroke-width:2"/>
<path class="k" d="M696.3,468.8 C694.9,470.1 689.8,473.5 687.9,476.3 C686,479.1 685.3,482.6 685,485.7 C684.7,488.8 685.5,492.7 686,495 C686.5,497.3 687.6,498.9 687.9,499.7"/>
<path d="M686,471 C680.6,477 679.6,486 681,494" fill="none" stroke="#000" stroke-width="3.4" stroke-dasharray="1.2 1.4"/>
<path class="wh" d="M693.5,461.3 C693.5,459.9 695.7,460.3 696.6,460.6 C697.5,460.9 698.5,461.9 699.1,463.1 C699.7,464.3 700.5,466.8 700,467.8 C699.5,468.8 697.5,470.1 696.4,469 C695.3,467.9 693.5,462.7 693.5,461.3Z"/>
<path class="wh" d="M703.8,470.6 L710.4,467.8 L716,470.6 L712.2,474.4 L707.6,472.5 L704.7,474.4Z"/>
<path class="k" d="M711.3,475.3 C711.5,476.2 712.5,479 712.6,481 C712.8,483 713.4,484.5 712.2,487.5 C711.1,490.5 708.4,495.7 705.7,498.8 C703.1,501.9 698.9,504.8 696.3,506.3 C693.7,507.8 691,507.4 690,507.6" style="stroke-width:2"/>
<path class="k" d="M704.7,474.4 C705,476.3 707.1,482.3 706.6,485.7 C706.1,489.1 704.2,492.2 701.9,495 C699.5,497.8 694.9,501.6 692.5,502.5 C690.1,503.4 688.2,500.8 687.4,500.4"/>
<path class="t" d="M708.4,475 C708.6,476.9 710.3,482.9 709.6,486.6 C708.9,490.3 706.4,494.1 704,497 C701.6,499.9 696.5,502.8 695,504"/>
<path class="k" d="M683.2,496.9 L685.6,502.4 L696.3,504.4"/>
<path class="ld" d="M668.1,481 L677.5,481"/>
<!-- clamp 16 -->
<path class="wh" d="M777.9,496 C778.2,494.4 780,494.9 781,495.2 C782,495.5 783.3,496.5 783.6,497.9 C783.9,499.3 783.4,502.4 782.6,503.5 C781.8,504.6 779.8,505.9 779,504.6 C778.2,503.4 777.6,497.6 777.9,496Z"/>
<path class="f" d="M777,496 L780,495.4 L779.6,504 L777,503Z"/>
<path class="k" d="M777.9,500.7 C775.9,501.6 769,503.8 765.7,506.3 C762.4,508.8 759.8,512.6 758.2,515.7 C756.6,518.8 756,521.8 756.3,525.1 C756.6,528.4 757.9,532.4 760.1,535.4 C762.3,538.4 766.4,541.5 769.5,542.9 C772.6,544.3 775.8,544.4 778.9,543.8 C782,543.2 785.6,541.3 788.2,539.1 C790.9,536.9 793.2,534 794.8,530.7 C796.4,527.4 797.3,523.1 797.6,519.4 C797.9,515.6 797.3,510.8 796.7,508.2 C796.1,505.6 794.4,504.3 793.9,503.5" style="stroke-width:2.2"/>
<path class="k" d="M778.9,504.4 C777.3,505.2 772.2,506.9 769.5,509.1 C766.8,511.3 764.1,514.6 762.9,517.6 C761.6,520.6 761.5,524.1 762,526.9 C762.5,529.7 763.8,532.4 765.7,534.4 C767.6,536.4 770.7,538.3 773.2,539.1 C775.7,539.9 778.2,539.9 780.7,539.1 C783.2,538.3 786.3,536.4 788.2,534.4 C790.1,532.4 791.2,529.7 792,526.9 C792.8,524.1 793,520.7 792.9,517.6 C792.8,514.5 791.7,510.2 791.1,508.2 C790.5,506.2 789.5,505.9 789.2,505.4"/>
<path class="t" d="M777,502.4 C775.4,503.3 770.3,505.2 767.6,507.6 C764.9,510 762,513.5 760.6,516.6 C759.2,519.7 758.8,522.9 759.2,526 C759.6,529.1 761,532.5 763,535 C765,537.5 768.6,539.9 771.4,541 C774.2,542.1 776.8,542.3 779.6,541.6 C782.4,540.9 785.7,539.1 788,537 C790.3,534.9 792.2,532.1 793.4,529 C794.6,525.9 795.1,522 795.2,518.6 C795.3,515.2 794.2,510.1 794,508.4"/>
<path class="f" d="M790.1,502.5 L793,501 L796.7,503.5 L794.6,507 L791,505.6Z"/>
<path class="ld" d="M747.9,522.2 L756.3,522.2"/>
</g>
</svg>
</body></html>
